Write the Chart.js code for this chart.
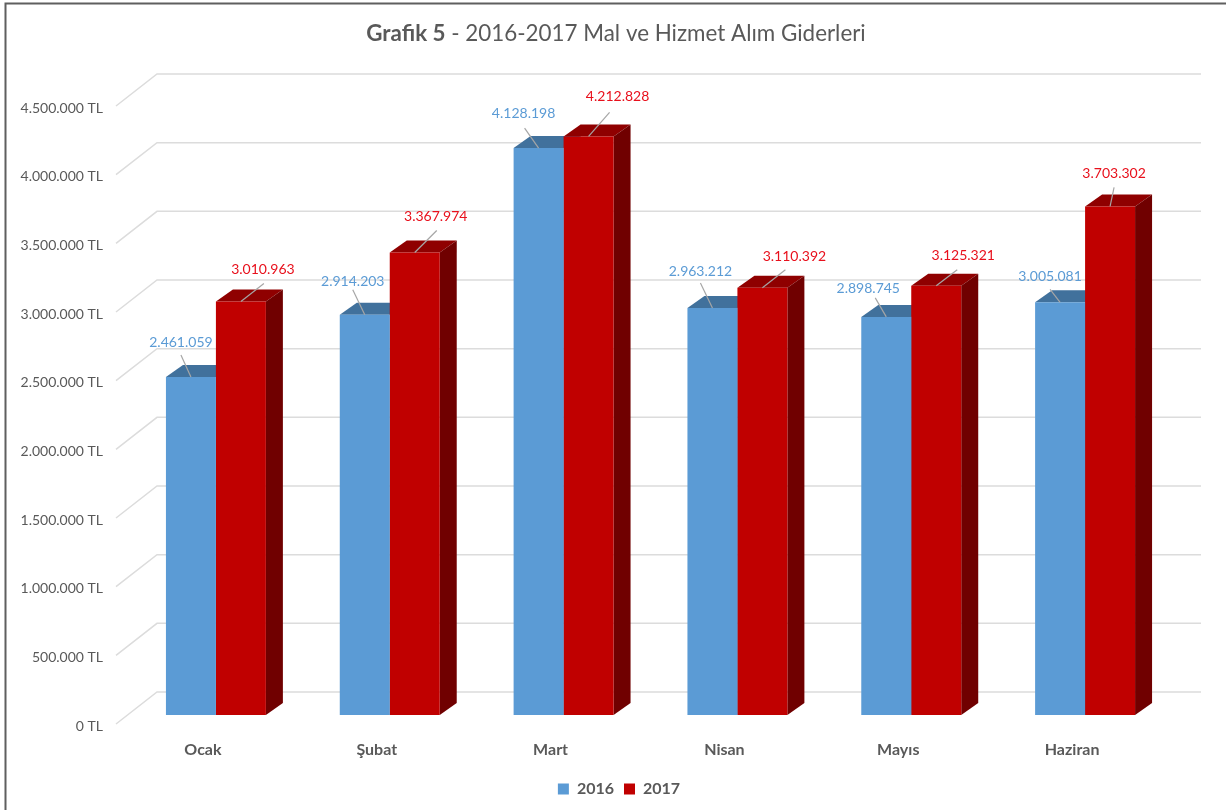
<!DOCTYPE html>
<html>
<head>
<meta charset="utf-8">
<title>Grafik 5</title>
<script src="https://cdn.jsdelivr.net/npm/chart.js@4"></script>
<style>
  html, body { margin: 0; padding: 0; background: #fff; overflow: hidden; }
  #wrap { width: 1226px; height: 810px; }
</style>
</head>
<body>
<div id="wrap"><canvas id="myCanvas"></canvas></div>
<script>
// values
const months = ['Ocak', 'Şubat', 'Mart', 'Nisan', 'Mayıs', 'Haziran'];
const values2016 = [2461059, 2914203, 4128198, 2963212, 2898745, 3005081];
const values2017 = [3010963, 3367974, 4212828, 3110392, 3125321, 3703302];
const seriesNames = ['2016', '2017'];
const titleBold = 'Grafik 5';
const titleRest = ' - 2016-2017 Mal ve Hizmet Alım Giderleri';

const FONT = 'Lato, "Open Sans", sans-serif';
const GREY = '#595959';

// offsets from top centre of the bar, the labels were moved by hand in the original
const labelPos = [
  [[-10, -35], [-12, -33], [-15, -35], [-12, -37], [-18, -28], [-10, -26]],
  [[22, -32], [21, -36], [29, -40], [32, -31], [27, -30], [4, -33]]
];
const leaderPos = [
  [[-10, -22], [-12, -25], [-14, -20], [-12, -25], [-11, -19], [-10, -13]],
  [[23, -18], [22, -22], [21, -24], [23, -18], [21, -16], [4, -19]]
];

const dotted = (n) => String(n).replace(/\B(?=(\d{3})+$)/g, '.');

// back wall of the fake 3d box
const wall = { x: 157, xEnd: 1201, drop: 23, frontX: 116, frontDrop: -9 };
const depth = { x: 17, y: 12 };
const faces = [
  { top: '#41719c', side: '#2f5a80' },
  { top: '#8f0000', side: '#700000' }
];

function poly(c, pts, fill) {
  c.fillStyle = fill;
  c.beginPath();
  pts.forEach((p, i) => i ? c.lineTo(p[0], p[1]) : c.moveTo(p[0], p[1]));
  c.closePath();
  c.fill();
}

const box3d = {
  id: 'box3d',
  afterLayout(chart) {
    // legend sits off centre in the original
    chart.legend.left = 66;
  },
  beforeDatasetsDraw(chart) {
    const c = chart.ctx;
    const y = chart.scales.y;
    c.save();

    // gridlines, diagonal part + back wall part
    c.strokeStyle = '#dcdcdc';
    c.lineWidth = 1.5;
    y.ticks.forEach((t) => {
      const py = y.getPixelForValue(t.value);
      c.beginPath();
      c.moveTo(wall.frontX, py - wall.frontDrop);
      c.lineTo(wall.x, py - wall.drop);
      c.lineTo(wall.xEnd, py - wall.drop);
      c.stroke();
    });

    // top + side of every bar, fronts get painted over this by chart.js
    chart.data.datasets.forEach((ds, i) => {
      chart.getDatasetMeta(i).data.forEach((bar) => {
        const half = bar.width / 2;
        const l = bar.x - half, r = bar.x + half;
        const t = bar.y, b = bar.base;
        poly(c, [[l, t], [l + depth.x, t - depth.y], [r + depth.x, t - depth.y], [r, t]], faces[i].top);
        poly(c, [[r, t], [r + depth.x, t - depth.y], [r + depth.x, b - depth.y], [r, b]], faces[i].side);
      });
    });
    c.restore();
  },
  afterDatasetsDraw(chart) {
    const c = chart.ctx;
    c.save();
    c.textAlign = 'center';
    c.textBaseline = 'middle';
    c.font = '14px ' + FONT;
    chart.data.datasets.forEach((ds, i) => {
      chart.getDatasetMeta(i).data.forEach((bar, j) => {
        c.strokeStyle = '#a6a6a6';
        c.lineWidth = 1.2;
        c.beginPath();
        c.moveTo(bar.x + leaderPos[i][j][0], bar.y + leaderPos[i][j][1]);
        c.lineTo(bar.x, bar.y);
        c.stroke();
        c.fillStyle = ds.labelColor;
        c.fillText(dotted(ds.data[j]), bar.x + labelPos[i][j][0], bar.y + labelPos[i][j][1]);
      });
    });
    c.restore();
  },
  afterDraw(chart) {
    const c = chart.ctx;
    c.save();
    // frame of the screenshot
    c.strokeStyle = '#5f5f5f';
    c.lineWidth = 2;
    c.beginPath();
    c.moveTo(5.5, 810);
    c.lineTo(5.5, 3.5);
    c.lineTo(1226, 3.5);
    c.stroke();

    // title has two weights so chart.js title plugin wont do
    c.textBaseline = 'middle';
    c.textAlign = 'left';
    c.fillStyle = GREY;
    c.font = 'bold 22.4px ' + FONT;
    const w1 = c.measureText(titleBold).width;
    c.font = '22.4px ' + FONT;
    const w2 = c.measureText(titleRest).width;
    const x0 = 616 - (w1 + w2) / 2;
    c.font = 'bold 22.4px ' + FONT;
    c.fillText(titleBold, x0, 34);
    c.font = '22.4px ' + FONT;
    c.fillText(titleRest, x0 + w1, 34);
    c.restore();
  }
};

const ctx = document.getElementById('myCanvas').getContext('2d');
new Chart(ctx, {
  type: 'bar',
  data: {
    labels: months,
    datasets: [
      { label: seriesNames[0], data: values2016, backgroundColor: '#5b9bd5', labelColor: '#5b9bd5' },
      { label: seriesNames[1], data: values2017, backgroundColor: '#c00000', labelColor: '#e8101c' }
    ]
  },
  options: {
    responsive: true,
    maintainAspectRatio: false,
    animation: false,
    categoryPercentage: 0.575,
    barPercentage: 1,
    layout: { padding: { left: 0, right: 54, top: 97, bottom: 3 } },
    plugins: {
      title: { display: false },
      tooltip: { enabled: false },
      legend: {
        position: 'bottom',
        labels: {
          boxWidth: 11,
          boxHeight: 11,
          padding: 10,
          color: GREY,
          font: { family: FONT, size: 16, weight: 'bold' }
        }
      }
    },
    scales: {
      x: {
        grid: { display: false, drawTicks: false },
        border: { display: false },
        afterFit(s) { s.height = 56; },
        ticks: {
          padding: 25,
          labelOffset: -13,
          maxRotation: 0,
          color: GREY,
          font: { family: FONT, size: 16, weight: 'bold' }
        }
      },
      y: {
        min: 0,
        max: 4500000,
        grid: { display: false, drawTicks: false },
        border: { display: false },
        afterFit(s) { s.width = 129; },
        ticks: {
          stepSize: 500000,
          padding: 26,
          labelOffset: 11,
          color: GREY,
          font: { family: FONT, size: 14 },
          callback: (v) => dotted(v) + ' TL'
        }
      }
    }
  },
  plugins: [box3d]
});
</script>
</body>
</html>
